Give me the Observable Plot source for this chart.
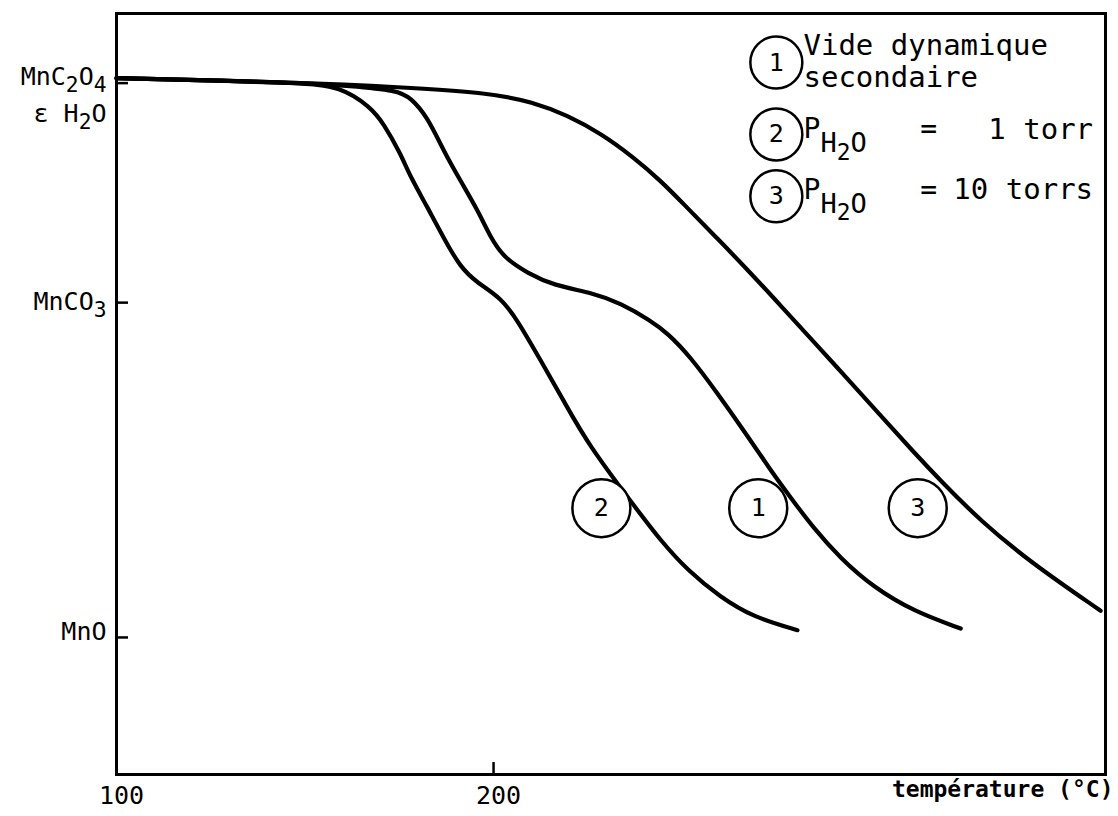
<!DOCTYPE html>
<html>
<head>
<meta charset="utf-8">
<script src="https://cdn.jsdelivr.net/npm/d3@7"></script>
<script src="https://cdn.jsdelivr.net/npm/@observablehq/plot@0.6"></script>
<style>
  html, body { margin: 0; padding: 0; background: white; }
  #chart { width: 1118px; height: 816px; }
</style>
</head>
<body>
<div id="chart"></div>
<script>
// ---- Data (temperature °C, relative mass level: MnO = 0, MnC2O4 = 100) ----
const temp1 = [100, 148.8, 162, 174.5, 178.0, 182.5, 186.7, 191.2, 195.8, 199.2, 202.7, 209.0, 215.9, 226.5, 233.7, 241.6, 246.2, 252.3, 259.4, 266.3, 273.5, 278.8, 284.9, 292.0, 300.8, 311.4, 323.9];
const mass1 = [100.4, 99.6, 99.0, 98.2, 96.9, 93.4, 87.4, 82.0, 76.7, 71.8, 68.2, 65.4, 63.2, 61.8, 60.0, 56.9, 54.6, 50.3, 43.8, 37.2, 30.0, 25.1, 19.6, 14.2, 9.0, 4.7, 1.6];

const temp2 = [100, 148.8, 159.4, 167.4, 170.8, 175.3, 178.0, 182.5, 186.7, 191.2, 195.8, 201.9, 206.4, 212.5, 218.6, 224.9, 238.2, 244.3, 251.5, 260.2, 269.0, 280.6];
const mass2 = [100.4, 99.6, 98.9, 95.2, 92.3, 86.9, 82.6, 77.2, 71.8, 66.4, 63.6, 61.0, 56.9, 49.7, 42.5, 34.8, 22.8, 17.4, 12.0, 7.2, 3.6, 1.3];

const temp3 = [100, 148.8, 175, 198.4, 210.6, 219.6, 228.4, 237.1, 244.3, 250.4, 259.4, 268.2, 276.1, 284.9, 293.9, 302.7, 311.4, 318.6, 329.2, 342.4, 361.0];
const mass3 = [100.4, 99.6, 98.8, 97.8, 96.1, 93.7, 90.5, 86.2, 82.0, 77.8, 71.6, 65.4, 59.6, 53.1, 46.4, 39.8, 33.3, 28.1, 20.9, 13.5, 4.8];

// Axis ticks and labels
const xTicks = [100, 200];
const yTicks = [99.5, 60.1, 0];
const yLabels = ["MnC₂O₄", "ε H₂O", "MnCO₃", "MnO"];
const yLabelLevels = [100.6, 94.0, 60.2, 0.9];
const xTitle = "température (°C)";

// Curve labels (circled numbers)
const curveIds = ["2", "1", "3"];
const curveLabelTemp = [228.6, 270.2, 312.5];
const curveLabelMass = [23.2, 23.2, 23.2];

// Legend
const legendIds = ["1", "2", "3"];
const legendMass = [103.2, 90.3, 79.2];
const legendTemp = 275.0;
const legendLine1 = ["Vide dynamique", "secondaire"];
const legendLine1Mass = [106.3, 100.4];
const legendPMass = [91.2, 80.3];
const legendValues = ["1 torr", "10 torrs"];

// ---- Build tables ----
const rows = [
  ...temp1.map((t, i) => ({t, m: mass1[i], c: "1"})),
  ...temp2.map((t, i) => ({t, m: mass2[i], c: "2"})),
  ...temp3.map((t, i) => ({t, m: mass3[i], c: "3"}))
];
const curveLabels = curveIds.map((id, i) => ({id, t: curveLabelTemp[i], m: curveLabelMass[i]}));
const legend = legendIds.map((id, i) => ({id, m: legendMass[i]}));
const legendText1 = legendLine1.map((s, i) => ({s, m: legendLine1Mass[i]}));
const legendP = legendPMass.map((m, i) => ({m, v: legendValues[i]}));
const yLab = yLabels.map((s, i) => ({s, m: yLabelLevels[i]}));

const FONT = "DejaVu Sans Mono";

const chart = Plot.plot({
  width: 1118,
  height: 816,
  marginTop: 13,
  marginBottom: 42,
  marginLeft: 116,
  marginRight: 13,
  style: {fontFamily: FONT, fontSize: "24px", color: "black", background: "white", overflow: "visible"},
  x: {domain: [100, 362.3]},
  y: {domain: [-24.6, 112.0]},
  marks: [
    Plot.frame({stroke: "black", strokeWidth: 3}),
    // inward ticks
    Plot.axisY(yTicks, {tickSize: -12, strokeWidth: 2.5, text: null, label: null}),
    Plot.axisX(xTicks, {tickSize: -12, strokeWidth: 2.5, text: null, label: null}),
    // x tick labels
    Plot.axisX(xTicks, {tickSize: 0, tickPadding: 12, fontSize: 25, fontFamily: FONT, label: null, dx: 5}),
    Plot.text([xTitle], {frameAnchor: "bottom-right", dy: 22, dx: 8, textAnchor: "end", fontSize: 23, fontWeight: "bold", fontFamily: FONT}),
    // y labels
    Plot.text(yLab, {y: "m", text: "s", frameAnchor: "left", dx: -10, textAnchor: "end", fontSize: 25, fontFamily: FONT}),
    // curves
    Plot.line(rows, {x: "t", y: "m", z: "c", stroke: "black", strokeWidth: 4.2, curve: "basis", strokeLinecap: "round", strokeLinejoin: "round"}),
    // curve labels
    Plot.dot(curveLabels, {x: "t", y: "m", r: 29, stroke: "black", strokeWidth: 2.5, fill: "white"}),
    Plot.text(curveLabels, {x: "t", y: "m", text: "id", fontSize: 25, fontFamily: FONT}),
    // legend
    Plot.dot(legend, {x: () => legendTemp, y: "m", r: 26, stroke: "black", strokeWidth: 2.5, fill: "white"}),
    Plot.text(legend, {x: () => legendTemp, y: "m", text: "id", fontSize: 25, fontFamily: FONT}),
    Plot.text(legendText1, {x: () => 282.2, y: "m", text: "s", textAnchor: "start", fontSize: 29, fontFamily: FONT}),
    Plot.text(legendP, {x: () => 282.2, y: "m", text: () => "P", textAnchor: "start", fontSize: 28, fontFamily: FONT}),
    Plot.text(legendP, {x: () => 282.2, y: "m", text: () => "H₂O", dx: 17, dy: 14, textAnchor: "start", fontSize: 27, fontFamily: FONT}),
    Plot.text(legendP, {x: () => 315.4, y: "m", text: () => "=", fontSize: 28, fontFamily: FONT}),
    Plot.text(legendP, {x: () => 359.0, y: "m", text: "v", textAnchor: "end", fontSize: 29, fontFamily: FONT})
  ]
});
document.getElementById("chart").appendChild(chart);

// Render Unicode subscript digits as lowered tspans (text stays real text)
(function subscriptify(svg) {
  const SUB = /[\u2080-\u2089]/;
  svg.querySelectorAll("text").forEach(t => {
    if (t.querySelector("tspan")) return;
    const s = t.textContent;
    if (!SUB.test(s)) return;
    const fs = parseFloat(getComputedStyle(t).fontSize) || 24;
    const shift = fs * 0.28;
    t.textContent = "";
    let lowered = false;
    for (const r of s.match(/[\u2080-\u2089]+|[^\u2080-\u2089]+/g)) {
      const ts = document.createElementNS("http://www.w3.org/2000/svg", "tspan");
      if (SUB.test(r)) {
        ts.textContent = r.replace(/[\u2080-\u2089]/g, c => String.fromCharCode(c.charCodeAt(0) - 0x2080 + 48));
        ts.setAttribute("dy", shift);
        ts.setAttribute("font-size", fs * 0.85);
        lowered = true;
      } else {
        ts.textContent = r;
        if (lowered) ts.setAttribute("dy", -shift);
        lowered = false;
      }
      t.appendChild(ts);
    }
  });
})(chart);
</script>
</body>
</html>
